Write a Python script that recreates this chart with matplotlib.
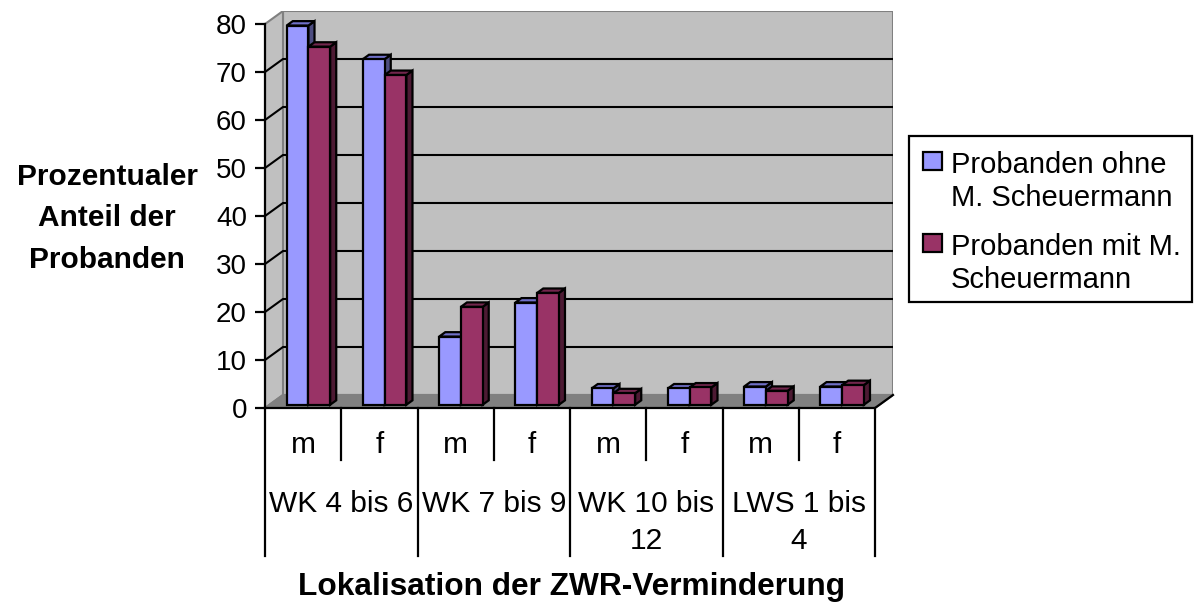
import numpy as np
import matplotlib.pyplot as plt
from matplotlib.patches import Polygon, Rectangle

plt.rcParams['font.family'] = ['Liberation Sans', 'DejaVu Sans']

# data (percent of subjects)
sex_labels = ['m', 'f', 'm', 'f', 'm', 'f', 'm', 'f']
group_labels = ['WK 4 bis 6', 'WK 7 bis 9', 'WK 10 bis\n12', 'LWS 1 bis\n4']
series_names = ['Probanden ohne\nM. Scheuermann', 'Probanden mit M.\nScheuermann']
ohne = [79.0, 72.0, 14.2, 21.3, 3.4, 3.4, 3.8, 3.8]
mit = [74.6, 68.7, 20.4, 23.3, 2.4, 3.6, 2.9, 4.1]
yticks = [0, 10, 20, 30, 40, 50, 60, 70, 80]

W, H = 1195, 608
face = ['#9999FF', '#993366']
top = ['#7070C8', '#73264D']
side = ['#4D4D80', '#4D1A33']

# oblique depth of the plot box (data units) and bar depth range
DX, DY = 0.236, 2.71
F0, F1 = 0.25, 0.59
bw = 0.285
n = len(sex_labels)
ymax = yticks[-1]
lw = 1.6


def fig_xy(x, y):
    return x / W, 1 - y / H


fig = plt.figure(figsize=(W / 100, H / 100), dpi=100)
ax = fig.add_axes([265 / W, 200 / H, 628 / W, 397 / H])
ax.set_xlim(0, n + DX)
ax.set_ylim(0, ymax + DY)

# walls and floor
ax.add_patch(Polygon([(DX, DY), (n + DX, DY), (n + DX, ymax + DY), (DX, ymax + DY)],
                     closed=True, fc='#C0C0C0', ec='#808080', lw=1.5, zorder=0))
ax.add_patch(Polygon([(0, 0), (DX, DY), (DX, ymax + DY), (0, ymax)],
                     closed=True, fc='#C0C0C0', ec='#808080', lw=1.5, zorder=0))
ax.add_patch(Polygon([(0, 0), (n, 0), (n + DX, DY), (DX, DY)],
                     closed=True, fc='#808080', ec='#808080', lw=1.5, zorder=1))
ax.plot([0, n, n + DX], [0, 0, DY], color='k', lw=lw, zorder=2, clip_on=False)

# gridlines on back and side wall
for v in yticks[1:-1]:
    ax.plot([0, DX, n + DX], [v, v + DY, v + DY], color='k', lw=1.5, zorder=1)

# 3d columns
x = np.arange(n)
for s, vals in enumerate([ohne, mit]):
    xl = x + 0.225 + s * bw + F0 * DX
    b = F0 * DY
    ddx, ddy = (F1 - F0) * DX, (F1 - F0) * DY
    for xi, v in zip(xl, vals):
        ax.add_patch(Polygon([(xi + bw, b), (xi + bw, b + v), (xi + bw + ddx, b + v + ddy),
                              (xi + bw + ddx, b + ddy)], closed=True, fc=side[s], ec='k',
                             lw=lw, zorder=3 + s))
        ax.add_patch(Polygon([(xi, b + v), (xi + bw, b + v), (xi + bw + ddx, b + v + ddy),
                              (xi + ddx, b + v + ddy)], closed=True, fc=top[s], ec='k',
                             lw=lw, zorder=3 + s))
    ax.bar(xl, vals, width=bw, bottom=b, align='edge', color=face[s], edgecolor='k',
           lw=lw, zorder=3 + s)

# axes styling
for k in ['top', 'right', 'bottom']:
    ax.spines[k].set_visible(False)
ax.spines['left'].set_bounds(0, ymax)
ax.spines['left'].set_linewidth(lw)
ax.spines['left'].set_zorder(5)
ax.set_yticks(yticks)
ax.tick_params(axis='y', length=7, width=lw, labelsize=20, pad=6)
ax.set_xticks([])
ax.patch.set_visible(False)

# category table below the floor
ppu = 397 / (ymax + DY)  # pixels per y unit
for i in range(n + 1):
    low = 148 if i % 2 == 0 else 52
    ax.plot([i, i], [0, -low / ppu], color='k', lw=lw, clip_on=False)
for i, lab in enumerate(sex_labels):
    ax.text(i + 0.5, -45 / ppu, lab, ha='center', va='baseline', fontsize=21.5)
for g, lab in enumerate(group_labels):
    for j, line in enumerate(lab.split('\n')):
        ax.text(2 * g + 1, -(104 + 37 * j) / ppu, line, ha='center', va='baseline',
                fontsize=21.5)

# axis titles
fig.text(*fig_xy(571, 595), 'Lokalisation der ZWR-Verminderung', ha='center',
         va='baseline', fontsize=22.75, fontweight='bold')
for j, line in enumerate(['Prozentualer', 'Anteil der', 'Probanden']):
    fig.text(*fig_xy(107, 185 + 41.5 * j), line, ha='center', va='baseline',
             fontsize=21.5, fontweight='bold')

# legend box
fig.add_artist(Rectangle(fig_xy(909, 302), 283 / W, 166 / H, transform=fig.transFigure,
                         fc='white', ec='k', lw=lw))
for s, name in enumerate(series_names):
    y0 = 152 + 82 * s
    fig.add_artist(Rectangle(fig_xy(923, y0 + 18), 19 / W, 18 / H, transform=fig.transFigure,
                             fc=face[s], ec='k', lw=lw))
    for j, line in enumerate(name.split('\n')):
        fig.text(*fig_xy(951, y0 + 21 + 33 * j), line, ha='left', va='baseline', fontsize=21)

fig.savefig('out.png', dpi=100)
